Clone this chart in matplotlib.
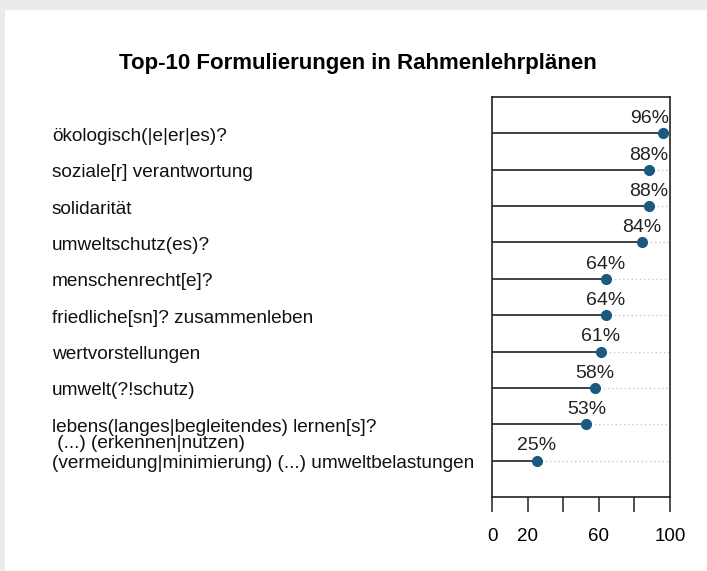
import matplotlib.pyplot as plt
from matplotlib.patches import Rectangle
import matplotlib.transforms as mtransforms

plt.rcParams['font.family'] = ['Liberation Sans', 'DejaVu Sans']

labels = [
    'ökologisch(|e|er|es)?',
    'soziale[r] verantwortung',
    'solidarität',
    'umweltschutz(es)?',
    'menschenrecht[e]?',
    'friedliche[sn]? zusammenleben',
    'wertvorstellungen',
    'umwelt(?!schutz)',
    'lebens(langes|begleitendes) lernen[s]?',
    ' (...) (erkennen|nutzen)\n(vermeidung|minimierung) (...) umweltbelastungen',
]
values = [96, 88, 88, 84, 64, 64, 61, 58, 53, 25]
xticks = [0, 20, 40, 60, 80, 100]
xticklabels = ['0', '20', '', '60', '', '100']

W, H = 707, 571
fig = plt.figure(figsize=(W / 100, H / 100), dpi=100, facecolor='#ebebeb')
fig.patches.append(Rectangle((5 / W, 0), 1, 1 - 10 / H, transform=fig.transFigure,
                             facecolor='white', edgecolor='none', zorder=-1))

ax = fig.add_axes([492 / W, 1 - 497 / H, 178 / W, 400 / H])
ax.set_zorder(2)
ax.set_xlim(0, 100)
ax.set_ylim(0, 11)

n = len(values)
ys = [n - i for i in range(n)]
dot = '#1b5a80'
for y, v, lab in zip(ys, values, labels):
    ax.plot([0, v], [y, y], color='#333333', lw=1.3, solid_capstyle='butt')
    ax.plot([v, 100], [y, y], color='#c8c8c8', lw=1, ls=(0, (1, 2)))
    ax.plot(v, y, 'o', color=dot, ms=7, zorder=3)
    if v >= 90:
        ax.text(99.5, y + 0.17, f'{v}%', ha='right', va='bottom', fontsize=14, color='#222222')
    else:
        ax.text(v, y + 0.17, f'{v}%', ha='center', va='bottom', fontsize=14, color='#222222')

# row labels, left-aligned at a fixed pixel position
trans = mtransforms.blended_transform_factory(fig.transFigure, ax.transData)
for y, lab in zip(ys, labels):
    if '\n' in lab:
        ax.text(52 / W, y + 0.2, lab, transform=trans, ha='left', va='center',
                fontsize=13.7, color='#111111', linespacing=1.18, clip_on=False)
    else:
        ax.text(52 / W, y - 0.08, lab, transform=trans, ha='left', va='center',
                fontsize=13.7, color='#111111', clip_on=False)

ax.set_yticks([])
ax.set_xticks(xticks)
ax.set_xticklabels(xticklabels, fontsize=13.5)
ax.tick_params(axis='x', length=11, width=1.2, pad=11, color='#333333')
for s in ax.spines.values():
    s.set_linewidth(1.2)
    s.set_color('#222222')

fig.text(358 / W, 1 - 64 / H, 'Top-10 Formulierungen in Rahmenlehrplänen',
         ha='center', va='center', fontsize=16, fontweight='bold')

fig.savefig('out.png', dpi=100, facecolor=fig.get_facecolor())
